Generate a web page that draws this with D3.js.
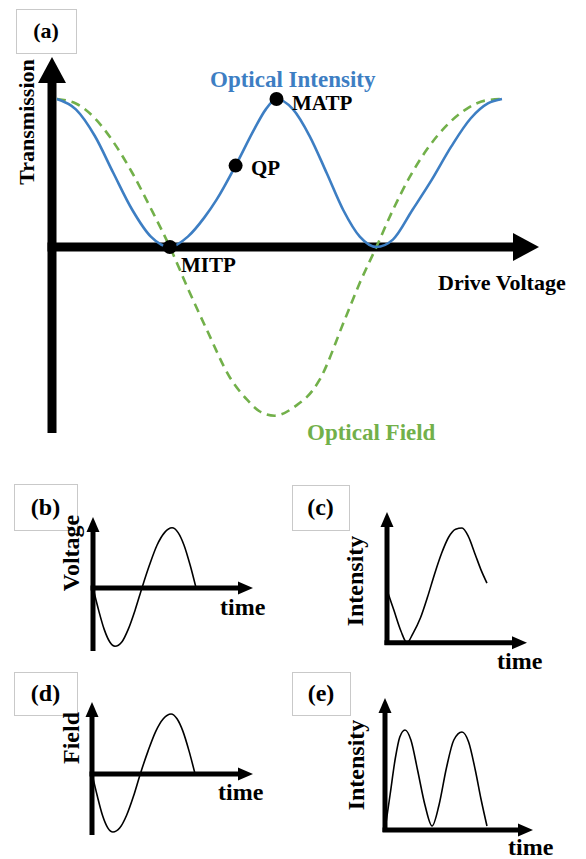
<!DOCTYPE html>
<html>
<head>
<meta charset="utf-8">
<script src="https://cdn.jsdelivr.net/npm/d3@7"></script>
<style>
  body { margin: 0; background: #fff; }
  svg { display: block; }
</style>
</head>
<body>
<div id="chart"></div>
<script>
// ---- data ----
// (a) drive voltage (arbitrary units 0..10) vs normalised transmission
const intensityCurve = [
  [0.10, 1], [0.49, 0.93], [0.88, 0.75], [1.26, 0.5], [1.65, 0.25], [2.03, 0.07], [2.42, 0],
  [2.79, 0.07], [3.13, 0.2], [3.38, 0.32], [3.77, 0.55], [4.16, 0.8], [4.39, 0.93], [4.61, 1],
  [4.95, 0.93], [5.29, 0.75], [5.64, 0.5], [5.98, 0.25], [6.32, 0.07], [6.66, 0],
  [7.0, 0.05], [7.4, 0.25], [7.79, 0.45], [8.2, 0.68], [8.6, 0.87], [8.95, 0.97], [9.24, 1]
];
const fieldCurve = [
  [0.10, 1], [0.49, 0.97], [0.88, 0.87], [1.26, 0.71], [1.65, 0.5], [2.03, 0.26], [2.42, 0],
  [2.79, -0.28], [3.18, -0.56], [3.65, -0.88], [4.0, -1.03], [4.26, -1.11], [4.57, -1.14],
  [5.02, -1.07], [5.35, -0.97], [5.49, -0.9], [6.0, -0.5], [6.31, -0.25], [6.66, 0],
  [7.0, 0.25], [7.34, 0.47], [7.7, 0.66], [8.1, 0.82], [8.5, 0.93], [8.9, 0.99], [9.24, 1]
];
const biasPoints = [
  { name: "MITP", v: 2.42, t: 0 },
  { name: "QP", v: 3.77, t: 0.55 },
  { name: "MATP", v: 4.61, t: 1 }
];

// (b)-(e) time (0..10) vs signal
const voltageTime = [
  [0, 0], [0.35, -0.37], [0.7, -0.69], [1.05, -0.9], [1.375, -0.97], [1.8, -0.9], [2.2, -0.69],
  [2.63, -0.37], [3.06, 0], [3.53, 0.38], [4.0, 0.71], [4.47, 0.92], [4.94, 1], [5.32, 0.92],
  [5.69, 0.71], [6.07, 0.38], [6.44, 0]
];
const intensityTimeC = [
  [0, 0.46], [0.5, 0.28], [1.0, 0.1], [1.43, 0], [1.85, 0.08], [2.4, 0.22], [2.9, 0.4],
  [3.4, 0.6], [3.9, 0.78], [4.4, 0.92], [4.9, 0.99], [5.36, 1], [5.8, 0.93], [6.3, 0.77],
  [6.7, 0.64], [7.14, 0.52]
];
const fieldTime = [
  [0, 0], [0.33, -0.37], [0.65, -0.69], [0.98, -0.9], [1.3, -0.97], [1.73, -0.9], [2.15, -0.69],
  [2.58, -0.37], [3.0, 0], [3.48, 0.38], [3.96, 0.71], [4.43, 0.92], [4.91, 1], [5.28, 0.92],
  [5.65, 0.71], [6.03, 0.38], [6.4, 0]
];
const intensityTimeE = [
  [0, 0], [0.35, 0.36], [0.7, 0.72], [1.0, 0.93], [1.35, 1], [1.75, 0.9], [2.2, 0.6],
  [2.7, 0.25], [3.18, 0.04], [3.65, 0.25], [4.15, 0.62], [4.65, 0.9], [5.2, 0.98],
  [5.65, 0.88], [6.1, 0.6], [6.5, 0.3], [6.89, 0.04]
];

const FONT = '"Liberation Serif", "Times New Roman", serif';
const BLUE = "#3d7ec3";
const GREEN = "#72b04a";

const svg = d3.select("#chart").append("svg")
    .attr("width", 586)
    .attr("height", 859);

svg.append("rect").attr("width", 586).attr("height", 859).attr("fill", "#fff");

// draw thick arrow axes for a panel
function drawAxes(g, x, y, opt) {
    const x0 = x(0), xTip = x.range()[1];
    const y0 = y(0), yBot = y.range()[0], yTip = y.range()[1];
    g.append("line")
        .attr("x1", x0).attr("x2", x0)
        .attr("y1", yBot).attr("y2", yTip + opt.head - 1)
        .attr("stroke", "#000").attr("stroke-width", opt.width);
    g.append("path")
        .attr("d", `M${x0},${yTip}L${x0 - opt.half},${yTip + opt.head}L${x0 + opt.half},${yTip + opt.head}Z`)
        .attr("fill", "#000");
    g.append("line")
        .attr("x1", x0 - opt.width / 2).attr("x2", xTip - opt.head + 1)
        .attr("y1", y0).attr("y2", y0)
        .attr("stroke", "#000").attr("stroke-width", opt.width);
    g.append("path")
        .attr("d", `M${xTip},${y0}L${xTip - opt.head},${y0 - opt.half}L${xTip - opt.head},${y0 + opt.half}Z`)
        .attr("fill", "#000");
}

function labelBox(x, y, w, h, txt, size) {
    svg.append("rect")
        .attr("x", x + 0.5).attr("y", y + 0.5)
        .attr("width", w).attr("height", h)
        .attr("fill", "none").attr("stroke", "#c9c9c9").attr("stroke-width", 1);
    svg.append("text")
        .attr("x", x + w / 2).attr("y", y + h / 2 + size * 0.33)
        .attr("text-anchor", "middle")
        .style("font-family", FONT).style("font-weight", "bold").style("font-size", size + "px")
        .text(txt);
}

function text(x, y, txt, size, opts) {
    opts = opts || {};
    const t = svg.append("text")
        .attr("text-anchor", opts.anchor || "start")
        .attr("fill", opts.color || "#000")
        .style("font-family", FONT).style("font-weight", "bold").style("font-size", size + "px")
        .text(txt);
    if (opts.rotate) t.attr("transform", `translate(${x},${y}) rotate(-90)`);
    else t.attr("x", x).attr("y", y);
    return t;
}

// ---------- panel (a) ----------
const xA = d3.scaleLinear().domain([0, 10]).range([52, 539]);
const yA = d3.scaleLinear().domain([-1.257, 1.284]).range([433, 57]);
const gA = svg.append("g");

drawAxes(gA, xA, yA, { width: 9, head: 26, half: 14 });

const lineA = d3.line()
    .x(d => xA(d[0]))
    .y(d => yA(d[1]))
    .curve(d3.curveMonotoneX);

gA.append("path")
    .datum(fieldCurve)
    .attr("d", lineA)
    .attr("fill", "none")
    .attr("stroke", GREEN)
    .attr("stroke-width", 2.6)
    .attr("stroke-dasharray", "9,6");

gA.append("path")
    .datum(intensityCurve)
    .attr("d", lineA)
    .attr("fill", "none")
    .attr("stroke", BLUE)
    .attr("stroke-width", 2.6);

gA.selectAll("circle.bias")
    .data(biasPoints)
    .join("circle")
    .attr("class", "bias")
    .attr("cx", d => xA(d.v))
    .attr("cy", d => yA(d.t))
    .attr("r", 7)
    .attr("fill", "#000");

labelBox(16, 9, 60, 44, "(a)", 22);
text(34, 122, "Transmission", 22, { rotate: true, anchor: "middle" });
text(210, 87, "Optical Intensity", 23, { color: BLUE });
text(292, 110, "MATP", 21);
text(251, 175, "QP", 21);
text(181, 272, "MITP", 21);
text(438, 290, "Drive Voltage", 22);
text(307, 440, "Optical Field", 23, { color: GREEN });

// ---------- small panels (b)-(e) ----------
const panels = [
    { id: "(b)", box: [14, 484, 63, 46], data: voltageTime, xr: [93, 253], yd: [-1.05, 1.18], yr: [651, 517],
      ylab: "Voltage", ylabPos: [79, 553], tlab: [220, 615] },
    { id: "(c)", box: [292, 485, 57, 45], data: intensityTimeC, xr: [387, 527], yd: [-0.02, 1.14], yr: [645, 512],
      ylab: "Intensity", ylabPos: [363, 581], tlab: [497, 669] },
    { id: "(d)", box: [14, 672, 63, 43], data: fieldTime, xr: [92, 253], yd: [-1.02, 1.2], yr: [835, 702],
      ylab: "Field", ylabPos: [79, 738], tlab: [218, 800] },
    { id: "(e)", box: [292, 672, 58, 43], data: intensityTimeE, xr: [385, 533], yd: [-0.02, 1.32], yr: [832, 698],
      ylab: "Intensity", ylabPos: [364, 765], tlab: [508, 855] }
];

panels.forEach(p => {
    const x = d3.scaleLinear().domain([0, 10]).range(p.xr);
    const y = d3.scaleLinear().domain(p.yd).range(p.yr);
    const g = svg.append("g");

    g.append("path")
        .datum(p.data)
        .attr("d", d3.line().x(d => x(d[0])).y(d => y(d[1])).curve(d3.curveMonotoneX))
        .attr("fill", "none")
        .attr("stroke", "#000")
        .attr("stroke-width", 1.6);

    drawAxes(g, x, y, { width: 5, head: 15, half: 6.5 });

    labelBox(p.box[0], p.box[1], p.box[2], p.box[3], p.id, 24);
    text(p.ylabPos[0], p.ylabPos[1], p.ylab, 24, { rotate: true, anchor: "middle" });
    text(p.tlab[0], p.tlab[1], "time", 24);
});
</script>
</body>
</html>
